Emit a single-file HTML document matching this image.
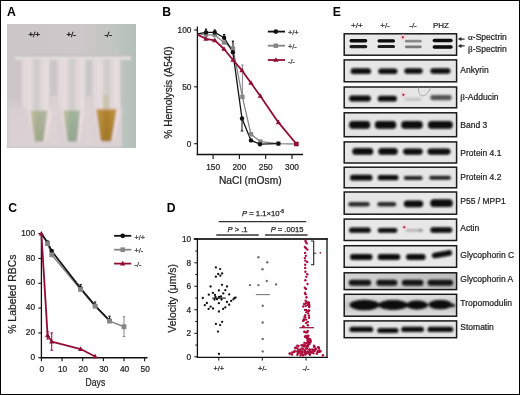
<!DOCTYPE html>
<html><head><meta charset="utf-8"><style>
html,body{margin:0;padding:0;background:#fff;}
svg{display:block;font-family:"Liberation Sans", sans-serif;will-change:transform;}
</style></head><body>
<svg width="520" height="395" viewBox="0 0 520 395">
<rect x="0" y="0" width="520" height="395" fill="#fff"/>
<text x="7" y="15.7" font-size="12.2" text-anchor="start" font-weight="bold" fill="#000"  >A</text>
<text x="162.3" y="15.7" font-size="12.2" text-anchor="start" font-weight="bold" fill="#000"  >B</text>
<text x="8.3" y="212.1" font-size="12.2" text-anchor="start" font-weight="bold" fill="#000"  >C</text>
<text x="166.7" y="212" font-size="12.2" text-anchor="start" font-weight="bold" fill="#000"  >D</text>
<text x="332.7" y="15.7" font-size="12.2" text-anchor="start" font-weight="bold" fill="#000"  >E</text>
<line x1="197.4" y1="26.5" x2="197.4" y2="155.2" stroke="#111" stroke-width="1.3"/>
<line x1="196.8" y1="154.5" x2="303" y2="154.5" stroke="#111" stroke-width="1.4"/>
<line x1="194.2" y1="30" x2="197.4" y2="30" stroke="#111" stroke-width="1.1"/>
<text x="191.4" y="33.0" font-size="8.3" text-anchor="end" font-weight="normal" fill="#222" stroke="#222" stroke-width="0.22" >100</text>
<line x1="194.2" y1="86.8" x2="197.4" y2="86.8" stroke="#111" stroke-width="1.1"/>
<text x="191.4" y="89.8" font-size="8.3" text-anchor="end" font-weight="normal" fill="#222" stroke="#222" stroke-width="0.22" >50</text>
<line x1="194.2" y1="143.7" x2="197.4" y2="143.7" stroke="#111" stroke-width="1.1"/>
<text x="191.4" y="146.7" font-size="8.3" text-anchor="end" font-weight="normal" fill="#222" stroke="#222" stroke-width="0.22" >0</text>
<line x1="213.1" y1="154.5" x2="213.1" y2="159" stroke="#111" stroke-width="1.1"/>
<text x="213.1" y="169.5" font-size="8.3" text-anchor="middle" font-weight="normal" fill="#222" stroke="#222" stroke-width="0.22" >150</text>
<line x1="239.4" y1="154.5" x2="239.4" y2="159" stroke="#111" stroke-width="1.1"/>
<text x="239.4" y="169.5" font-size="8.3" text-anchor="middle" font-weight="normal" fill="#222" stroke="#222" stroke-width="0.22" >200</text>
<line x1="265.7" y1="154.5" x2="265.7" y2="159" stroke="#111" stroke-width="1.1"/>
<text x="265.7" y="169.5" font-size="8.3" text-anchor="middle" font-weight="normal" fill="#222" stroke="#222" stroke-width="0.22" >250</text>
<line x1="292" y1="154.5" x2="292" y2="159" stroke="#111" stroke-width="1.1"/>
<text x="292" y="169.5" font-size="8.3" text-anchor="middle" font-weight="normal" fill="#222" stroke="#222" stroke-width="0.22" >300</text>
<text x="250.3" y="184" font-size="10.25" text-anchor="middle" font-weight="normal" fill="#222" stroke="#222" stroke-width="0.22" >NaCl (mOsm)</text>
<text x="0" y="0" font-size="10.2" text-anchor="middle" font-weight="normal" fill="#222" stroke="#222" stroke-width="0.22" transform="translate(172.2,92.6) rotate(-90)">% Hemolysis (A540)</text>
<polyline points="197.4,33.8 206,34.6 214.8,35 224,42.5 233,48.5 242.4,96.9 251,134.3 260.4,141.6 278.4,143.6 296.4,144" fill="none" stroke="#858585" stroke-width="1.3" stroke-linejoin="round"/>
<polyline points="197.4,33.8 206,32.4 214.8,32.4 224.1,37.7 232.9,52.3 242,118.5 251,140.4 260,144.2 278.4,143.6" fill="none" stroke="#111" stroke-width="1.3" stroke-linejoin="round"/>
<polyline points="197.4,34.6 206,38.8 214.8,40.4 224,49 233,60 242,70.4 251,83 260.3,96 278.4,122.4 296.4,144" fill="none" stroke="#900d34" stroke-width="1.8" stroke-linejoin="round"/>
<line x1="206" y1="29.2" x2="206" y2="32.4" stroke="#111" stroke-width="1.2"/>
<line x1="204.9" y1="29.2" x2="207.1" y2="29.2" stroke="#111" stroke-width="1.2"/>
<line x1="204.9" y1="32.4" x2="207.1" y2="32.4" stroke="#111" stroke-width="1.2"/>
<line x1="214.8" y1="30" x2="214.8" y2="32.4" stroke="#111" stroke-width="1.2"/>
<line x1="213.70000000000002" y1="30" x2="215.9" y2="30" stroke="#111" stroke-width="1.2"/>
<line x1="213.70000000000002" y1="32.4" x2="215.9" y2="32.4" stroke="#111" stroke-width="1.2"/>
<line x1="224.1" y1="34.6" x2="224.1" y2="37.7" stroke="#111" stroke-width="1.2"/>
<line x1="223.0" y1="34.6" x2="225.2" y2="34.6" stroke="#111" stroke-width="1.2"/>
<line x1="223.0" y1="37.7" x2="225.2" y2="37.7" stroke="#111" stroke-width="1.2"/>
<line x1="232.9" y1="41.2" x2="232.9" y2="52.3" stroke="#111" stroke-width="1.2"/>
<line x1="231.8" y1="41.2" x2="234.0" y2="41.2" stroke="#111" stroke-width="1.2"/>
<line x1="231.8" y1="52.3" x2="234.0" y2="52.3" stroke="#111" stroke-width="1.2"/>
<line x1="242" y1="118.5" x2="242" y2="131" stroke="#111" stroke-width="1"/>
<line x1="240.7" y1="118.5" x2="243.3" y2="118.5" stroke="#111" stroke-width="1"/>
<line x1="240.7" y1="131" x2="243.3" y2="131" stroke="#111" stroke-width="1"/>
<line x1="242.4" y1="96.9" x2="242.4" y2="65" stroke="#858585" stroke-width="1"/>
<line x1="241.1" y1="96.9" x2="243.70000000000002" y2="96.9" stroke="#858585" stroke-width="1"/>
<line x1="241.1" y1="65" x2="243.70000000000002" y2="65" stroke="#858585" stroke-width="1"/>
<line x1="233" y1="50.8" x2="233" y2="44" stroke="#858585" stroke-width="1"/>
<line x1="231.7" y1="50.8" x2="234.3" y2="50.8" stroke="#858585" stroke-width="1"/>
<line x1="231.7" y1="44" x2="234.3" y2="44" stroke="#858585" stroke-width="1"/>
<rect x="203.8" y="32.4" width="4.4" height="4.4" fill="#858585"/>
<rect x="212.60000000000002" y="32.8" width="4.4" height="4.4" fill="#858585"/>
<rect x="221.8" y="40.3" width="4.4" height="4.4" fill="#858585"/>
<rect x="230.8" y="46.3" width="4.4" height="4.4" fill="#858585"/>
<rect x="240.20000000000002" y="94.7" width="4.4" height="4.4" fill="#858585"/>
<rect x="248.8" y="132.10000000000002" width="4.4" height="4.4" fill="#858585"/>
<rect x="258.2" y="139.4" width="4.4" height="4.4" fill="#858585"/>
<rect x="276.2" y="141.4" width="4.4" height="4.4" fill="#858585"/>
<circle cx="206" cy="32.4" r="2.2" fill="#111"/>
<circle cx="214.8" cy="32.4" r="2.2" fill="#111"/>
<circle cx="224.1" cy="37.7" r="2.2" fill="#111"/>
<circle cx="232.9" cy="52.3" r="2.2" fill="#111"/>
<circle cx="242" cy="118.5" r="2.2" fill="#111"/>
<circle cx="251" cy="140.4" r="2.2" fill="#111"/>
<circle cx="260" cy="144.2" r="2.2" fill="#111"/>
<circle cx="278.4" cy="143.6" r="2.2" fill="#111"/>
<polygon points="206,35.992 203.4,40.672 208.6,40.672" fill="#900d34"/>
<polygon points="214.8,37.592 212.20000000000002,42.272 217.4,42.272" fill="#900d34"/>
<polygon points="224,46.192 221.4,50.872 226.6,50.872" fill="#900d34"/>
<polygon points="233,57.192 230.4,61.872 235.6,61.872" fill="#900d34"/>
<polygon points="242,67.592 239.4,72.272 244.6,72.272" fill="#900d34"/>
<polygon points="251,80.192 248.4,84.872 253.6,84.872" fill="#900d34"/>
<polygon points="260.3,93.192 257.7,97.872 262.90000000000003,97.872" fill="#900d34"/>
<polygon points="278.4,119.592 275.79999999999995,124.272 281.0,124.272" fill="#900d34"/>
<rect x="294.09999999999997" y="141.7" width="4.6" height="4.6" fill="#900d34"/>
<line x1="267.8" y1="31.6" x2="285" y2="31.6" stroke="#111" stroke-width="1.8"/>
<circle cx="275.8" cy="31.6" r="2.4" fill="#111"/>
<text x="288" y="35.300000000000004" font-size="7.3" text-anchor="start" font-weight="normal" fill="#333" stroke="#333" stroke-width="0.22" >+/+</text>
<line x1="267.8" y1="45.7" x2="285" y2="45.7" stroke="#858585" stroke-width="1.8"/>
<rect x="273.6" y="43.5" width="4.4" height="4.4" fill="#858585"/>
<text x="288" y="49.400000000000006" font-size="7.3" text-anchor="start" font-weight="normal" fill="#333" stroke="#333" stroke-width="0.22" >+/-</text>
<line x1="267.8" y1="60" x2="285" y2="60" stroke="#900d34" stroke-width="1.8"/>
<polygon points="275.8,57.192 273.2,61.872 278.40000000000003,61.872" fill="#900d34"/>
<text x="288" y="63.7" font-size="7.3" text-anchor="start" font-weight="normal" fill="#333" stroke="#333" stroke-width="0.22" >-/-</text>
<line x1="41.4" y1="232.5" x2="41.4" y2="358.3" stroke="#111" stroke-width="1.3"/>
<line x1="40.8" y1="357.7" x2="147.5" y2="357.7" stroke="#111" stroke-width="1.4"/>
<line x1="38.3" y1="233.7" x2="41.4" y2="233.7" stroke="#111" stroke-width="1.1"/>
<text x="35" y="235.79999999999998" font-size="8.3" text-anchor="end" font-weight="normal" fill="#222" stroke="#222" stroke-width="0.22" >100</text>
<line x1="38.3" y1="258.5" x2="41.4" y2="258.5" stroke="#111" stroke-width="1.1"/>
<text x="35" y="260.6" font-size="8.3" text-anchor="end" font-weight="normal" fill="#222" stroke="#222" stroke-width="0.22" >80</text>
<line x1="38.3" y1="283.3" x2="41.4" y2="283.3" stroke="#111" stroke-width="1.1"/>
<text x="35" y="285.40000000000003" font-size="8.3" text-anchor="end" font-weight="normal" fill="#222" stroke="#222" stroke-width="0.22" >60</text>
<line x1="38.3" y1="308.1" x2="41.4" y2="308.1" stroke="#111" stroke-width="1.1"/>
<text x="35" y="310.20000000000005" font-size="8.3" text-anchor="end" font-weight="normal" fill="#222" stroke="#222" stroke-width="0.22" >40</text>
<line x1="38.3" y1="332.9" x2="41.4" y2="332.9" stroke="#111" stroke-width="1.1"/>
<text x="35" y="335.0" font-size="8.3" text-anchor="end" font-weight="normal" fill="#222" stroke="#222" stroke-width="0.22" >20</text>
<line x1="38.3" y1="357.7" x2="41.4" y2="357.7" stroke="#111" stroke-width="1.1"/>
<text x="35" y="359.8" font-size="8.3" text-anchor="end" font-weight="normal" fill="#222" stroke="#222" stroke-width="0.22" >0</text>
<line x1="41.4" y1="357.7" x2="41.4" y2="361.2" stroke="#111" stroke-width="1.1"/>
<text x="41.9" y="371.5" font-size="8.3" text-anchor="middle" font-weight="normal" fill="#222" stroke="#222" stroke-width="0.22" >0</text>
<line x1="62.05" y1="357.7" x2="62.05" y2="361.2" stroke="#111" stroke-width="1.1"/>
<text x="62.55" y="371.5" font-size="8.3" text-anchor="middle" font-weight="normal" fill="#222" stroke="#222" stroke-width="0.22" >10</text>
<line x1="82.69999999999999" y1="357.7" x2="82.69999999999999" y2="361.2" stroke="#111" stroke-width="1.1"/>
<text x="83.19999999999999" y="371.5" font-size="8.3" text-anchor="middle" font-weight="normal" fill="#222" stroke="#222" stroke-width="0.22" >20</text>
<line x1="103.35" y1="357.7" x2="103.35" y2="361.2" stroke="#111" stroke-width="1.1"/>
<text x="103.85" y="371.5" font-size="8.3" text-anchor="middle" font-weight="normal" fill="#222" stroke="#222" stroke-width="0.22" >30</text>
<line x1="124.0" y1="357.7" x2="124.0" y2="361.2" stroke="#111" stroke-width="1.1"/>
<text x="124.5" y="371.5" font-size="8.3" text-anchor="middle" font-weight="normal" fill="#222" stroke="#222" stroke-width="0.22" >40</text>
<line x1="144.65" y1="357.7" x2="144.65" y2="361.2" stroke="#111" stroke-width="1.1"/>
<text x="145.15" y="371.5" font-size="8.3" text-anchor="middle" font-weight="normal" fill="#222" stroke="#222" stroke-width="0.22" >50</text>
<text x="95.4" y="385.5" font-size="10.7" text-anchor="middle" font-weight="normal" fill="#222" stroke="#222" stroke-width="0.22" textLength="19.6" lengthAdjust="spacingAndGlyphs">Days</text>
<text x="0" y="0" font-size="10.4" text-anchor="middle" font-weight="normal" fill="#222" stroke="#222" stroke-width="0.22" transform="translate(15.8,294.2) rotate(-90)">% Labeled RBCs</text>
<polyline points="41.4,233.7 47.595,243.62 51.724999999999994,254.77999999999997 80.63499999999999,289.5 95.09,306.24 109.54499999999999,321.12 124.0,326.7" fill="none" stroke="#858585" stroke-width="1.5" stroke-linejoin="round"/>
<polyline points="41.4,233.7 47.595,242.38 51.724999999999994,251.06 80.63499999999999,288.26 95.09,305.62 109.54499999999999,320.5" fill="none" stroke="#111" stroke-width="1.7" stroke-linejoin="round"/>
<polyline points="41.4,233.7 47.595,335.38 51.724999999999994,341.58 80.63499999999999,349.02 95.09,356.46" fill="none" stroke="#900d34" stroke-width="1.8" stroke-linejoin="round"/>
<line x1="124.0" y1="316.78" x2="124.0" y2="336.62" stroke="#858585" stroke-width="1"/>
<line x1="122.7" y1="316.78" x2="125.3" y2="316.78" stroke="#858585" stroke-width="1"/>
<line x1="122.7" y1="336.62" x2="125.3" y2="336.62" stroke="#858585" stroke-width="1"/>
<line x1="109.54499999999999" y1="316.15999999999997" x2="109.54499999999999" y2="321.12" stroke="#111" stroke-width="1"/>
<line x1="108.34499999999998" y1="316.15999999999997" x2="110.74499999999999" y2="316.15999999999997" stroke="#111" stroke-width="1"/>
<line x1="108.34499999999998" y1="321.12" x2="110.74499999999999" y2="321.12" stroke="#111" stroke-width="1"/>
<line x1="95.09" y1="301.9" x2="95.09" y2="306.24" stroke="#111" stroke-width="1"/>
<line x1="93.89" y1="301.9" x2="96.29" y2="301.9" stroke="#111" stroke-width="1"/>
<line x1="93.89" y1="306.24" x2="96.29" y2="306.24" stroke="#111" stroke-width="1"/>
<line x1="80.63499999999999" y1="284.53999999999996" x2="80.63499999999999" y2="288.26" stroke="#111" stroke-width="1"/>
<line x1="79.43499999999999" y1="284.53999999999996" x2="81.835" y2="284.53999999999996" stroke="#111" stroke-width="1"/>
<line x1="79.43499999999999" y1="288.26" x2="81.835" y2="288.26" stroke="#111" stroke-width="1"/>
<line x1="51.724999999999994" y1="332.9" x2="51.724999999999994" y2="350.26" stroke="#900d34" stroke-width="1"/>
<line x1="50.425" y1="332.9" x2="53.02499999999999" y2="332.9" stroke="#900d34" stroke-width="1"/>
<line x1="50.425" y1="350.26" x2="53.02499999999999" y2="350.26" stroke="#900d34" stroke-width="1"/>
<line x1="47.595" y1="331.65999999999997" x2="47.595" y2="339.09999999999997" stroke="#900d34" stroke-width="1"/>
<line x1="46.394999999999996" y1="331.65999999999997" x2="48.795" y2="331.65999999999997" stroke="#900d34" stroke-width="1"/>
<line x1="46.394999999999996" y1="339.09999999999997" x2="48.795" y2="339.09999999999997" stroke="#900d34" stroke-width="1"/>
<circle cx="47.595" cy="242.38" r="2.2" fill="#111"/>
<circle cx="51.724999999999994" cy="251.06" r="2.2" fill="#111"/>
<circle cx="80.63499999999999" cy="288.26" r="2.2" fill="#111"/>
<circle cx="95.09" cy="305.62" r="2.2" fill="#111"/>
<circle cx="109.54499999999999" cy="320.5" r="2.2" fill="#111"/>
<rect x="45.195" y="241.22" width="4.8" height="4.8" fill="#858585"/>
<rect x="49.324999999999996" y="252.37999999999997" width="4.8" height="4.8" fill="#858585"/>
<rect x="78.23499999999999" y="287.1" width="4.8" height="4.8" fill="#858585"/>
<rect x="92.69" y="303.84000000000003" width="4.8" height="4.8" fill="#858585"/>
<rect x="107.14499999999998" y="318.72" width="4.8" height="4.8" fill="#858585"/>
<rect x="121.6" y="324.3" width="4.8" height="4.8" fill="#858585"/>
<polygon points="41.4,230.892 38.8,235.572 44.0,235.572" fill="#900d34"/>
<polygon points="47.595,332.572 44.995,337.252 50.195,337.252" fill="#900d34"/>
<polygon points="51.724999999999994,338.772 49.12499999999999,343.452 54.324999999999996,343.452" fill="#900d34"/>
<polygon points="80.63499999999999,346.212 78.035,350.892 83.23499999999999,350.892" fill="#900d34"/>
<polygon points="95.09,353.652 92.49000000000001,358.332 97.69,358.332" fill="#900d34"/>
<line x1="114.1" y1="235.8" x2="131.3" y2="235.8" stroke="#111" stroke-width="1.8"/>
<circle cx="122.7" cy="235.8" r="2.4" fill="#111"/>
<text x="134.5" y="239.5" font-size="7.3" text-anchor="start" font-weight="normal" fill="#333" stroke="#333" stroke-width="0.22" >+/+</text>
<line x1="114.1" y1="249.7" x2="131.3" y2="249.7" stroke="#858585" stroke-width="1.8"/>
<rect x="120.4" y="247.39999999999998" width="4.6" height="4.6" fill="#858585"/>
<text x="134.5" y="253.39999999999998" font-size="7.3" text-anchor="start" font-weight="normal" fill="#333" stroke="#333" stroke-width="0.22" >+/-</text>
<line x1="114.1" y1="263.6" x2="131.3" y2="263.6" stroke="#900d34" stroke-width="1.8"/>
<polygon points="122.7,260.684 120.0,265.54400000000004 125.4,265.54400000000004" fill="#900d34"/>
<text x="134.5" y="267.3" font-size="7.3" text-anchor="start" font-weight="normal" fill="#333" stroke="#333" stroke-width="0.22" >-/-</text>
<line x1="193.8" y1="239" x2="327.6" y2="239" stroke="#333" stroke-width="1.8"/>
<line x1="197.4" y1="238" x2="197.4" y2="358" stroke="#111" stroke-width="1.3"/>
<line x1="327" y1="238" x2="327" y2="358" stroke="#111" stroke-width="1.3"/>
<line x1="196.8" y1="357.4" x2="327.6" y2="357.4" stroke="#111" stroke-width="1.4"/>
<line x1="194.3" y1="356.8" x2="197.3" y2="356.8" stroke="#111" stroke-width="1"/>
<text x="191.2" y="359.7" font-size="8.3" text-anchor="end" font-weight="normal" fill="#222" stroke="#222" stroke-width="0.22" >0</text>
<line x1="195.3" y1="345.05" x2="197.3" y2="345.05" stroke="#111" stroke-width="1"/>
<line x1="194.3" y1="333.3" x2="197.3" y2="333.3" stroke="#111" stroke-width="1"/>
<text x="191.2" y="336.2" font-size="8.3" text-anchor="end" font-weight="normal" fill="#222" stroke="#222" stroke-width="0.22" >2</text>
<line x1="195.3" y1="321.55" x2="197.3" y2="321.55" stroke="#111" stroke-width="1"/>
<line x1="194.3" y1="309.8" x2="197.3" y2="309.8" stroke="#111" stroke-width="1"/>
<text x="191.2" y="312.7" font-size="8.3" text-anchor="end" font-weight="normal" fill="#222" stroke="#222" stroke-width="0.22" >4</text>
<line x1="195.3" y1="298.05" x2="197.3" y2="298.05" stroke="#111" stroke-width="1"/>
<line x1="194.3" y1="286.3" x2="197.3" y2="286.3" stroke="#111" stroke-width="1"/>
<text x="191.2" y="289.2" font-size="8.3" text-anchor="end" font-weight="normal" fill="#222" stroke="#222" stroke-width="0.22" >6</text>
<line x1="195.3" y1="274.55" x2="197.3" y2="274.55" stroke="#111" stroke-width="1"/>
<line x1="194.3" y1="262.8" x2="197.3" y2="262.8" stroke="#111" stroke-width="1"/>
<text x="191.2" y="265.7" font-size="8.3" text-anchor="end" font-weight="normal" fill="#222" stroke="#222" stroke-width="0.22" >8</text>
<line x1="195.3" y1="251.05" x2="197.3" y2="251.05" stroke="#111" stroke-width="1"/>
<line x1="194.3" y1="239.3" x2="197.3" y2="239.3" stroke="#111" stroke-width="1"/>
<text x="191.2" y="242.20000000000002" font-size="8.3" text-anchor="end" font-weight="normal" fill="#222" stroke="#222" stroke-width="0.22" >10</text>
<line x1="218.8" y1="357.3" x2="218.8" y2="360.5" stroke="#111" stroke-width="1"/>
<text x="218.8" y="370.9" font-size="7.3" text-anchor="middle" font-weight="normal" fill="#222" stroke="#222" stroke-width="0.22" >+/+</text>
<line x1="262.3" y1="357.3" x2="262.3" y2="360.5" stroke="#111" stroke-width="1"/>
<text x="262.3" y="370.9" font-size="7.3" text-anchor="middle" font-weight="normal" fill="#222" stroke="#222" stroke-width="0.22" >+/-</text>
<line x1="306" y1="357.3" x2="306" y2="360.5" stroke="#111" stroke-width="1"/>
<text x="306" y="370.9" font-size="7.3" text-anchor="middle" font-weight="normal" fill="#222" stroke="#222" stroke-width="0.22" >-/-</text>
<text x="0" y="0" font-size="10.45" text-anchor="middle" font-weight="normal" fill="#222" stroke="#222" stroke-width="0.22" transform="translate(175.7,298.3) rotate(-90)">Velocity (μm/s)</text>
<line x1="218.75" y1="221.6" x2="306.25" y2="221.6" stroke="#333" stroke-width="1.3"/>
<line x1="216.25" y1="235" x2="258.75" y2="235" stroke="#333" stroke-width="1.3"/>
<line x1="265" y1="235" x2="307.5" y2="235" stroke="#333" stroke-width="1.3"/>
<text x="263" y="216" font-size="7.7" text-anchor="middle" fill="#222" stroke="#222" stroke-width="0.25"><tspan font-style="italic">P</tspan> = 1.1×10<tspan font-size="5" dy="-3">-6</tspan></text>
<text x="237.5" y="232" font-size="7.6" text-anchor="middle" fill="#222" stroke="#222" stroke-width="0.25"><tspan font-style="italic">P</tspan> &gt; .1</text>
<text x="287" y="232" font-size="7.6" text-anchor="middle" fill="#222" stroke="#222" stroke-width="0.25"><tspan font-style="italic">P</tspan> = .0015</text>
<circle cx="215.9" cy="267.4" r="1.15" fill="#111"/>
<circle cx="220.1" cy="269.1" r="1.15" fill="#111"/>
<circle cx="218.2" cy="274" r="1.15" fill="#111"/>
<circle cx="222.1" cy="273.5" r="1.15" fill="#111"/>
<circle cx="220.3" cy="275.7" r="1.15" fill="#111"/>
<circle cx="215.9" cy="276.7" r="1.15" fill="#111"/>
<circle cx="210.6" cy="286.5" r="1.15" fill="#111"/>
<circle cx="222" cy="284.8" r="1.15" fill="#111"/>
<circle cx="227" cy="286.5" r="1.15" fill="#111"/>
<circle cx="218.9" cy="290.4" r="1.15" fill="#111"/>
<circle cx="225.3" cy="290.2" r="1.15" fill="#111"/>
<circle cx="212.9" cy="292.9" r="1.15" fill="#111"/>
<circle cx="223.3" cy="293.4" r="1.15" fill="#111"/>
<circle cx="208.8" cy="294.7" r="1.15" fill="#111"/>
<circle cx="215" cy="294.9" r="1.15" fill="#111"/>
<circle cx="229.2" cy="294.4" r="1.15" fill="#111"/>
<circle cx="202.8" cy="298" r="1.15" fill="#111"/>
<circle cx="234.4" cy="298" r="1.15" fill="#111"/>
<circle cx="215.5" cy="297" r="1.15" fill="#111"/>
<circle cx="217" cy="299.2" r="1.15" fill="#111"/>
<circle cx="219" cy="297" r="1.15" fill="#111"/>
<circle cx="221" cy="296.5" r="1.15" fill="#111"/>
<circle cx="221.5" cy="299.5" r="1.15" fill="#111"/>
<circle cx="214.5" cy="299.5" r="1.15" fill="#111"/>
<circle cx="235.6" cy="297.6" r="1.15" fill="#111"/>
<circle cx="233.4" cy="299.3" r="1.15" fill="#111"/>
<circle cx="231.2" cy="300.9" r="1.15" fill="#111"/>
<circle cx="227" cy="302" r="1.15" fill="#111"/>
<circle cx="218.9" cy="303.2" r="1.15" fill="#111"/>
<circle cx="206.9" cy="303" r="1.15" fill="#111"/>
<circle cx="204.8" cy="305.2" r="1.15" fill="#111"/>
<circle cx="229.2" cy="304.7" r="1.15" fill="#111"/>
<circle cx="210.6" cy="306.7" r="1.15" fill="#111"/>
<circle cx="225.3" cy="307.4" r="1.15" fill="#111"/>
<circle cx="208.6" cy="308.9" r="1.15" fill="#111"/>
<circle cx="213" cy="308.5" r="1.15" fill="#111"/>
<circle cx="223.1" cy="308.9" r="1.15" fill="#111"/>
<circle cx="218.9" cy="311.5" r="1.15" fill="#111"/>
<circle cx="222.1" cy="321.9" r="1.15" fill="#111"/>
<circle cx="215.9" cy="323.9" r="1.15" fill="#111"/>
<circle cx="220.1" cy="325.1" r="1.15" fill="#111"/>
<circle cx="218" cy="331.6" r="1.15" fill="#111"/>
<circle cx="219" cy="353.9" r="1.15" fill="#111"/>
<line x1="212.2" y1="298.1" x2="225.8" y2="298.1" stroke="#111" stroke-width="1.1"/>
<circle cx="258.4" cy="257.2" r="1.2" fill="#707070"/>
<circle cx="267.2" cy="262.3" r="1.2" fill="#707070"/>
<circle cx="262.5" cy="269.2" r="1.2" fill="#707070"/>
<circle cx="266.8" cy="281" r="1.2" fill="#707070"/>
<circle cx="249.9" cy="285.1" r="1.2" fill="#707070"/>
<circle cx="258.4" cy="285.1" r="1.2" fill="#707070"/>
<circle cx="276.1" cy="284.4" r="1.2" fill="#707070"/>
<circle cx="262.7" cy="305.7" r="1.2" fill="#707070"/>
<circle cx="262.7" cy="322.5" r="1.2" fill="#707070"/>
<circle cx="262.7" cy="338.9" r="1.2" fill="#707070"/>
<circle cx="262.7" cy="351.4" r="1.2" fill="#707070"/>
<line x1="255.8" y1="294.6" x2="269.7" y2="294.6" stroke="#777" stroke-width="1.1"/>
<circle cx="305.52" cy="240.8" r="1.2" fill="#ab0f3e"/>
<circle cx="305.8" cy="242.1" r="1.2" fill="#ab0f3e"/>
<circle cx="306.73" cy="243.4" r="1.2" fill="#ab0f3e"/>
<circle cx="304.88" cy="247.01" r="1.2" fill="#ab0f3e"/>
<circle cx="306.1" cy="248.31" r="1.2" fill="#ab0f3e"/>
<circle cx="307.44" cy="249.61" r="1.2" fill="#ab0f3e"/>
<circle cx="305.12" cy="252.88" r="1.2" fill="#ab0f3e"/>
<circle cx="305.87" cy="255.83" r="1.2" fill="#ab0f3e"/>
<circle cx="304.84" cy="258.11" r="1.2" fill="#ab0f3e"/>
<circle cx="305.31" cy="260.6" r="1.2" fill="#ab0f3e"/>
<circle cx="307.23" cy="261.9" r="1.2" fill="#ab0f3e"/>
<circle cx="305.19" cy="264.7" r="1.2" fill="#ab0f3e"/>
<circle cx="305.17" cy="267.91" r="1.2" fill="#ab0f3e"/>
<circle cx="305.39" cy="271.76" r="1.2" fill="#ab0f3e"/>
<circle cx="307.24" cy="274.25" r="1.2" fill="#ab0f3e"/>
<circle cx="306.31" cy="276.87" r="1.2" fill="#ab0f3e"/>
<circle cx="305.31" cy="280.19" r="1.2" fill="#ab0f3e"/>
<circle cx="307.51" cy="284.04" r="1.2" fill="#ab0f3e"/>
<circle cx="304.86" cy="287.74" r="1.2" fill="#ab0f3e"/>
<circle cx="305.96" cy="289.04" r="1.2" fill="#ab0f3e"/>
<circle cx="304.98" cy="292.83" r="1.2" fill="#ab0f3e"/>
<circle cx="305.64" cy="294.13" r="1.2" fill="#ab0f3e"/>
<circle cx="306.47" cy="297.31" r="1.2" fill="#ab0f3e"/>
<circle cx="305.67" cy="300.69" r="1.2" fill="#ab0f3e"/>
<circle cx="306.08" cy="309.89" r="1.2" fill="#ab0f3e"/>
<circle cx="306.08" cy="319.62" r="1.2" fill="#ab0f3e"/>
<circle cx="303.36" cy="326.38" r="1.2" fill="#ab0f3e"/>
<circle cx="303.15" cy="320.74" r="1.2" fill="#ab0f3e"/>
<circle cx="308.41" cy="302.45" r="1.2" fill="#ab0f3e"/>
<circle cx="308.04" cy="311.15" r="1.2" fill="#ab0f3e"/>
<circle cx="306.7" cy="302.23" r="1.2" fill="#ab0f3e"/>
<circle cx="303.3" cy="306.52" r="1.2" fill="#ab0f3e"/>
<circle cx="309.11" cy="306.91" r="1.2" fill="#ab0f3e"/>
<circle cx="307.84" cy="325.24" r="1.2" fill="#ab0f3e"/>
<circle cx="309.03" cy="310.61" r="1.2" fill="#ab0f3e"/>
<circle cx="305.27" cy="315.12" r="1.2" fill="#ab0f3e"/>
<circle cx="307.96" cy="304.7" r="1.2" fill="#ab0f3e"/>
<circle cx="307.79" cy="321.93" r="1.2" fill="#ab0f3e"/>
<circle cx="308.5" cy="302.92" r="1.2" fill="#ab0f3e"/>
<circle cx="309.05" cy="304.28" r="1.2" fill="#ab0f3e"/>
<circle cx="305.18" cy="317.27" r="1.2" fill="#ab0f3e"/>
<circle cx="308.88" cy="310.5" r="1.2" fill="#ab0f3e"/>
<circle cx="308.91" cy="315.63" r="1.2" fill="#ab0f3e"/>
<circle cx="305.0" cy="309.92" r="1.2" fill="#ab0f3e"/>
<circle cx="304.14" cy="303.95" r="1.2" fill="#ab0f3e"/>
<circle cx="303.95" cy="319.23" r="1.2" fill="#ab0f3e"/>
<circle cx="309.38" cy="306.04" r="1.2" fill="#ab0f3e"/>
<circle cx="303.31" cy="326.67" r="1.2" fill="#ab0f3e"/>
<circle cx="306.41" cy="312.15" r="1.2" fill="#ab0f3e"/>
<circle cx="304.52" cy="316.85" r="1.2" fill="#ab0f3e"/>
<circle cx="308.29" cy="313.39" r="1.2" fill="#ab0f3e"/>
<circle cx="305.7" cy="303.39" r="1.2" fill="#ab0f3e"/>
<circle cx="308.86" cy="302.82" r="1.2" fill="#ab0f3e"/>
<circle cx="306.16" cy="322.96" r="1.2" fill="#ab0f3e"/>
<circle cx="303.84" cy="320.29" r="1.2" fill="#ab0f3e"/>
<circle cx="309.08" cy="317.76" r="1.2" fill="#ab0f3e"/>
<circle cx="308.04" cy="304.67" r="1.2" fill="#ab0f3e"/>
<circle cx="305.78" cy="305.73" r="1.2" fill="#ab0f3e"/>
<circle cx="307.72" cy="331.06" r="1.2" fill="#ab0f3e"/>
<circle cx="305.77" cy="336.0" r="1.2" fill="#ab0f3e"/>
<circle cx="307.76" cy="335.83" r="1.2" fill="#ab0f3e"/>
<circle cx="305.77" cy="332.42" r="1.2" fill="#ab0f3e"/>
<circle cx="307.15" cy="332.35" r="1.2" fill="#ab0f3e"/>
<circle cx="304.96" cy="331.83" r="1.2" fill="#ab0f3e"/>
<circle cx="304.23" cy="331.64" r="1.2" fill="#ab0f3e"/>
<circle cx="308.44" cy="335.72" r="1.2" fill="#ab0f3e"/>
<circle cx="307.67" cy="340.49" r="1.2" fill="#ab0f3e"/>
<circle cx="305.01" cy="336.8" r="1.2" fill="#ab0f3e"/>
<circle cx="304.41" cy="343.04" r="1.2" fill="#ab0f3e"/>
<circle cx="309.88" cy="339.25" r="1.2" fill="#ab0f3e"/>
<circle cx="309.13" cy="342.97" r="1.2" fill="#ab0f3e"/>
<circle cx="308.29" cy="341.98" r="1.2" fill="#ab0f3e"/>
<circle cx="308.89" cy="339.27" r="1.2" fill="#ab0f3e"/>
<circle cx="308.38" cy="338.53" r="1.2" fill="#ab0f3e"/>
<circle cx="306.37" cy="342.93" r="1.2" fill="#ab0f3e"/>
<circle cx="308.26" cy="338.64" r="1.2" fill="#ab0f3e"/>
<circle cx="310.6" cy="341.85" r="1.2" fill="#ab0f3e"/>
<circle cx="307.24" cy="336.1" r="1.2" fill="#ab0f3e"/>
<circle cx="306.93" cy="338.26" r="1.2" fill="#ab0f3e"/>
<circle cx="308.08" cy="340.17" r="1.2" fill="#ab0f3e"/>
<circle cx="309.41" cy="341.83" r="1.2" fill="#ab0f3e"/>
<circle cx="309.24" cy="339.13" r="1.2" fill="#ab0f3e"/>
<circle cx="307.83" cy="342.64" r="1.2" fill="#ab0f3e"/>
<circle cx="309.52" cy="339.15" r="1.2" fill="#ab0f3e"/>
<circle cx="309.65" cy="343.83" r="1.2" fill="#ab0f3e"/>
<circle cx="308.23" cy="344.79" r="1.2" fill="#ab0f3e"/>
<circle cx="310.7" cy="340.66" r="1.2" fill="#ab0f3e"/>
<circle cx="306.77" cy="337.5" r="1.2" fill="#ab0f3e"/>
<circle cx="305.77" cy="353.87" r="1.2" fill="#ab0f3e"/>
<circle cx="308.3" cy="352.33" r="1.2" fill="#ab0f3e"/>
<circle cx="306.81" cy="346.82" r="1.2" fill="#ab0f3e"/>
<circle cx="310.04" cy="352.05" r="1.2" fill="#ab0f3e"/>
<circle cx="313.51" cy="353.21" r="1.2" fill="#ab0f3e"/>
<circle cx="304.56" cy="345.29" r="1.2" fill="#ab0f3e"/>
<circle cx="312.03" cy="351.89" r="1.2" fill="#ab0f3e"/>
<circle cx="305.09" cy="351.69" r="1.2" fill="#ab0f3e"/>
<circle cx="296.13" cy="347.4" r="1.2" fill="#ab0f3e"/>
<circle cx="297.38" cy="348.36" r="1.2" fill="#ab0f3e"/>
<circle cx="303.07" cy="345.38" r="1.2" fill="#ab0f3e"/>
<circle cx="297.62" cy="351.49" r="1.2" fill="#ab0f3e"/>
<circle cx="302.62" cy="354.57" r="1.2" fill="#ab0f3e"/>
<circle cx="295.37" cy="347.95" r="1.2" fill="#ab0f3e"/>
<circle cx="289.85" cy="353.81" r="1.2" fill="#ab0f3e"/>
<circle cx="307.45" cy="351.5" r="1.2" fill="#ab0f3e"/>
<circle cx="319.02" cy="348.6" r="1.2" fill="#ab0f3e"/>
<circle cx="316.84" cy="353.68" r="1.2" fill="#ab0f3e"/>
<circle cx="294.42" cy="351.81" r="1.2" fill="#ab0f3e"/>
<circle cx="320.52" cy="351.32" r="1.2" fill="#ab0f3e"/>
<circle cx="300.55" cy="355.26" r="1.2" fill="#ab0f3e"/>
<circle cx="292.04" cy="354.47" r="1.2" fill="#ab0f3e"/>
<circle cx="294.73" cy="351.0" r="1.2" fill="#ab0f3e"/>
<circle cx="304.76" cy="351.67" r="1.2" fill="#ab0f3e"/>
<circle cx="299.83" cy="349.58" r="1.2" fill="#ab0f3e"/>
<circle cx="322.9" cy="355.31" r="1.2" fill="#ab0f3e"/>
<circle cx="297.38" cy="354.69" r="1.2" fill="#ab0f3e"/>
<circle cx="302.89" cy="355.4" r="1.2" fill="#ab0f3e"/>
<circle cx="305.92" cy="348.38" r="1.2" fill="#ab0f3e"/>
<circle cx="295.52" cy="348.04" r="1.2" fill="#ab0f3e"/>
<circle cx="299.36" cy="351.59" r="1.2" fill="#ab0f3e"/>
<circle cx="301.13" cy="353.29" r="1.2" fill="#ab0f3e"/>
<circle cx="319.46" cy="350.65" r="1.2" fill="#ab0f3e"/>
<circle cx="298.06" cy="353.29" r="1.2" fill="#ab0f3e"/>
<circle cx="303.93" cy="346.64" r="1.2" fill="#ab0f3e"/>
<circle cx="310.62" cy="351.45" r="1.2" fill="#ab0f3e"/>
<circle cx="302.18" cy="351.4" r="1.2" fill="#ab0f3e"/>
<circle cx="307.14" cy="353.06" r="1.2" fill="#ab0f3e"/>
<circle cx="306.85" cy="348.56" r="1.2" fill="#ab0f3e"/>
<circle cx="313.36" cy="349.92" r="1.2" fill="#ab0f3e"/>
<circle cx="298.16" cy="351.26" r="1.2" fill="#ab0f3e"/>
<circle cx="309.88" cy="349.83" r="1.2" fill="#ab0f3e"/>
<circle cx="314.66" cy="350.78" r="1.2" fill="#ab0f3e"/>
<circle cx="312.15" cy="349.53" r="1.2" fill="#ab0f3e"/>
<circle cx="319.27" cy="351.7" r="1.2" fill="#ab0f3e"/>
<circle cx="316.21" cy="349.09" r="1.2" fill="#ab0f3e"/>
<circle cx="314.76" cy="347.08" r="1.2" fill="#ab0f3e"/>
<circle cx="307.95" cy="345.7" r="1.2" fill="#ab0f3e"/>
<circle cx="314.32" cy="349.59" r="1.2" fill="#ab0f3e"/>
<circle cx="305.23" cy="354.65" r="1.2" fill="#ab0f3e"/>
<circle cx="300.73" cy="350.82" r="1.2" fill="#ab0f3e"/>
<circle cx="314.11" cy="346.63" r="1.2" fill="#ab0f3e"/>
<circle cx="313.95" cy="345.73" r="1.2" fill="#ab0f3e"/>
<circle cx="289.73" cy="353.39" r="1.2" fill="#ab0f3e"/>
<circle cx="310.98" cy="352.66" r="1.2" fill="#ab0f3e"/>
<circle cx="317.33" cy="352.43" r="1.2" fill="#ab0f3e"/>
<circle cx="318.14" cy="347.32" r="1.2" fill="#ab0f3e"/>
<circle cx="299.1" cy="352.55" r="1.2" fill="#ab0f3e"/>
<circle cx="309.97" cy="354.73" r="1.2" fill="#ab0f3e"/>
<circle cx="309.6" cy="349.39" r="1.2" fill="#ab0f3e"/>
<circle cx="303.03" cy="345.46" r="1.2" fill="#ab0f3e"/>
<circle cx="307.88" cy="345.76" r="1.2" fill="#ab0f3e"/>
<circle cx="302.34" cy="352.87" r="1.2" fill="#ab0f3e"/>
<circle cx="308.97" cy="349.58" r="1.2" fill="#ab0f3e"/>
<circle cx="304.74" cy="350.19" r="1.2" fill="#ab0f3e"/>
<circle cx="297.37" cy="345.59" r="1.2" fill="#ab0f3e"/>
<circle cx="319.22" cy="351.69" r="1.2" fill="#ab0f3e"/>
<circle cx="298.61" cy="350.88" r="1.2" fill="#ab0f3e"/>
<circle cx="313.81" cy="350.85" r="1.2" fill="#ab0f3e"/>
<circle cx="297.84" cy="350.48" r="1.2" fill="#ab0f3e"/>
<circle cx="302.79" cy="348.93" r="1.2" fill="#ab0f3e"/>
<circle cx="292.2" cy="352.56" r="1.2" fill="#ab0f3e"/>
<circle cx="293.74" cy="352.08" r="1.2" fill="#ab0f3e"/>
<circle cx="317.96" cy="351.3" r="1.2" fill="#ab0f3e"/>
<circle cx="314.97" cy="350.09" r="1.2" fill="#ab0f3e"/>
<circle cx="301.54" cy="345.31" r="1.2" fill="#ab0f3e"/>
<circle cx="307.81" cy="346.6" r="1.2" fill="#ab0f3e"/>
<circle cx="318.72" cy="347.36" r="1.2" fill="#ab0f3e"/>
<circle cx="302.4" cy="352.05" r="1.2" fill="#ab0f3e"/>
<circle cx="297.49" cy="351.62" r="1.2" fill="#ab0f3e"/>
<circle cx="301.71" cy="348.53" r="1.2" fill="#ab0f3e"/>
<circle cx="315.61" cy="349.09" r="1.2" fill="#ab0f3e"/>
<circle cx="305.33" cy="351.87" r="1.2" fill="#ab0f3e"/>
<circle cx="309.25" cy="354.03" r="1.2" fill="#ab0f3e"/>
<circle cx="304.96" cy="351.08" r="1.2" fill="#ab0f3e"/>
<circle cx="298.48" cy="346.03" r="1.2" fill="#ab0f3e"/>
<circle cx="305.81" cy="345.42" r="1.2" fill="#ab0f3e"/>
<circle cx="304.99" cy="353.06" r="1.2" fill="#ab0f3e"/>
<line x1="299.4" y1="327.7" x2="313.9" y2="327.7" stroke="#900d34" stroke-width="1.2"/>
<path d="M310.9,241 H313.7 V264.8 H310.9 M313.7,253.2 H316.2" fill="none" stroke="#222" stroke-width="1.1"/>
<circle cx="320.3" cy="252.9" r="0.8" fill="#900d34"/>
<defs><filter id="bl" x="-20%" y="-80%" width="140%" height="260%"><feGaussianBlur stdDeviation="0.85"/></filter><filter id="bl2" x="-10%" y="-10%" width="120%" height="120%"><feGaussianBlur stdDeviation="1.2"/></filter><filter id="bl3" x="-20%" y="-80%" width="140%" height="260%"><feGaussianBlur stdDeviation="0.55"/></filter></defs>
<defs><linearGradient id="gA" x1="0" y1="0" x2="1" y2="0"><stop offset="0" stop-color="#d4d4d4"/><stop offset="1" stop-color="#bcbcbc"/></linearGradient><linearGradient id="gT" x1="0" y1="0" x2="0" y2="1"><stop offset="0" stop-color="#e4e4e4"/><stop offset="0.5" stop-color="#c4c4c4"/><stop offset="1" stop-color="#e0e0e0"/></linearGradient></defs>
<rect x="344.2" y="33.800000000000004" width="112.4" height="21.4" fill="#e8e8e8" stroke="#1a1a1a" stroke-width="1.5"/>
<g filter="url(#bl3)">
<rect x="349.5" y="39.099999999999994" width="17.800000000000033" height="3.4000000000000004" rx="1.7000000000000002" fill="#080808"/>
<rect x="377.5" y="39.3" width="17.50000000000002" height="3.2" rx="1.6" fill="#080808"/>
<rect x="404.90000000000003" y="39.800000000000004" width="16.799999999999976" height="2.8" rx="1.4" fill="#8a8a8a"/>
<rect x="432.6" y="38.7" width="20.099999999999987" height="3.5999999999999996" rx="1.7999999999999998" fill="#080808"/>
<rect x="349.5" y="45.0" width="17.800000000000033" height="3.2" rx="1.6" fill="#1a1a1a"/>
<rect x="377.5" y="44.95" width="17.50000000000002" height="3.0999999999999996" rx="1.5499999999999998" fill="#1a1a1a"/>
<rect x="404.90000000000003" y="45.4" width="16.799999999999976" height="2.8" rx="1.4" fill="#7a7a7a"/>
<rect x="432.6" y="45.15" width="20.099999999999987" height="3.5" rx="1.75" fill="#080808"/>
</g>
<rect x="344.2" y="59.900000000000006" width="112.4" height="21.9" fill="#e6e6e6" stroke="#1a1a1a" stroke-width="1.5"/>
<g filter="url(#bl)">
<rect x="350.7" y="68.3" width="20.20000000000001" height="5.8" rx="2.9" fill="#080808"/>
<rect x="378.3" y="68.4" width="19.099999999999987" height="5.6" rx="2.8" fill="#080808"/>
<rect x="404.3" y="68.2" width="18.4" height="5.6" rx="2.8" fill="#080808"/>
<rect x="430.3" y="68.2" width="20.20000000000001" height="5.6" rx="2.8" fill="#080808"/>
</g>
<rect x="344.2" y="87.0" width="112.4" height="20.800000000000004" fill="#e6e6e6" stroke="#1a1a1a" stroke-width="1.5"/>
<g filter="url(#bl)">
<rect x="349.1" y="95.6" width="21.799999999999976" height="5.8" rx="2.9" fill="#080808"/>
<rect x="377.7" y="95.8" width="19.20000000000001" height="5.8" rx="2.9" fill="#080808"/>
<rect x="404.3" y="97.80000000000001" width="17.20000000000001" height="3.2" rx="1.6" fill="#c4c4c4"/>
<rect x="430.3" y="94.94999999999999" width="21.4" height="5.3" rx="2.65" fill="#555"/>
</g>
<rect x="344.2" y="112.8" width="112.4" height="23.900000000000013" fill="#e4e4e4" stroke="#1a1a1a" stroke-width="1.5"/>
<g filter="url(#bl)">
<rect x="349.1" y="120.89999999999999" width="21.099999999999987" height="7.8" rx="3.5" fill="#080808"/>
<rect x="374.90000000000003" y="120.89999999999999" width="21.299999999999976" height="7.8" rx="3.5" fill="#080808"/>
<rect x="401.3" y="120.89999999999999" width="21.4" height="7.8" rx="3.5" fill="#080808"/>
<rect x="428.0" y="120.89999999999999" width="24.70000000000001" height="7.8" rx="3.5" fill="#080808"/>
</g>
<rect x="344.2" y="141.89999999999998" width="112.4" height="21.1" fill="#e6e6e6" stroke="#1a1a1a" stroke-width="1.5"/>
<g filter="url(#bl)">
<rect x="352.3" y="148.0" width="20.9" height="6.8" rx="3.4" fill="#080808"/>
<rect x="378.3" y="148.0" width="19.4" height="6.8" rx="3.4" fill="#080808"/>
<rect x="403.1" y="148.45" width="19.599999999999987" height="6.3" rx="3.15" fill="#080808"/>
<rect x="427.5" y="148.45" width="23.00000000000002" height="6.3" rx="3.15" fill="#080808"/>
</g>
<rect x="344.2" y="167.2" width="112.4" height="20.6" fill="#e6e6e6" stroke="#1a1a1a" stroke-width="1.5"/>
<g filter="url(#bl)">
<rect x="350.0" y="174.79999999999998" width="22.50000000000002" height="5.8" rx="2.9" fill="#080808"/>
<rect x="377.7" y="175.04999999999998" width="20.800000000000033" height="5.3" rx="2.65" fill="#080808"/>
<rect x="403.8" y="176.0" width="18.9" height="4.0" rx="2.0" fill="#222"/>
<rect x="429.2" y="175.8" width="21.70000000000001" height="4.0" rx="2.0" fill="#222"/>
</g>
<rect x="344.2" y="192.0" width="112.4" height="22.199999999999996" fill="#e6e6e6" stroke="#1a1a1a" stroke-width="1.5"/>
<g filter="url(#bl)">
<rect x="348.3" y="201.89999999999998" width="21.4" height="4.6" rx="2.3" fill="#2a2a2a"/>
<rect x="377.3" y="201.89999999999998" width="18.9" height="4.6" rx="2.3" fill="#2a2a2a"/>
<rect x="403.8" y="200.4" width="19.4" height="6.8" rx="3.4" fill="#080808"/>
<rect x="430.3" y="199.29999999999998" width="22.4" height="7.8" rx="3.5" fill="#080808"/>
</g>
<rect x="344.2" y="219.1" width="112.4" height="21.399999999999984" fill="#e8e8e8" stroke="#1a1a1a" stroke-width="1.5"/>
<g filter="url(#bl)">
<rect x="349.1" y="227.54999999999998" width="21.599999999999987" height="5.3" rx="2.65" fill="#080808"/>
<rect x="377.7" y="228.0" width="19.70000000000001" height="4.8" rx="2.4" fill="#080808"/>
<rect x="405.7" y="229.20000000000002" width="17.50000000000002" height="2.4000000000000004" rx="1.2000000000000002" fill="#a8a8a8"/>
<rect x="418.8" y="228.9" width="3.4" height="2.8" rx="1.4" fill="#888"/>
<rect x="430.3" y="227.35" width="22.00000000000002" height="5.3" rx="2.65" fill="#080808"/>
</g>
<rect x="344.2" y="245.7" width="112.4" height="21.6" fill="#e8e8e8" stroke="#1a1a1a" stroke-width="1.5"/>
<g filter="url(#bl)">
<rect x="350.0" y="254.1" width="22.50000000000002" height="5.8" rx="2.9" fill="#080808"/>
<rect x="377.7" y="254.1" width="22.50000000000002" height="5.8" rx="2.9" fill="#080808"/>
<rect x="406.1" y="254.1" width="19.499999999999964" height="5.8" rx="2.9" fill="#080808"/>
<rect x="431.8" y="251.39999999999998" width="20.4" height="5.6" rx="2.8" fill="#080808" transform="rotate(-10 442.0 254.2)"/>
</g>
<rect x="344.2" y="272.8" width="112.4" height="16.79999999999999" fill="url(#gA)" stroke="#1a1a1a" stroke-width="1.5"/>
<g filter="url(#bl)">
<rect x="348.7" y="279.8" width="22.50000000000002" height="6.0" rx="3.0" fill="#151515"/>
<rect x="376.3" y="279.8" width="21.099999999999987" height="6.0" rx="3.0" fill="#151515"/>
<rect x="401.8" y="279.8" width="21.70000000000001" height="6.0" rx="3.0" fill="#151515"/>
<rect x="427.5" y="279.8" width="25.599999999999987" height="6.0" rx="3.0" fill="#151515"/>
</g>
<rect x="344.2" y="294.3" width="112.4" height="21.899999999999956" fill="url(#gT)" stroke="#1a1a1a" stroke-width="1.5"/>
<g filter="url(#bl)">
<ellipse cx="364.5" cy="305" rx="14.899999999999977" ry="5.15" fill="#080808"/>
<rect x="353.6" y="301.05" width="21.799999999999955" height="7.9" rx="3" fill="#080808"/>
<ellipse cx="393.15" cy="305" rx="14.650000000000006" ry="4.9" fill="#080808"/>
<rect x="382.5" y="301.3" width="21.30000000000001" height="7.4" rx="3" fill="#080808"/>
<ellipse cx="417.0" cy="305" rx="11.199999999999989" ry="4.4" fill="#080808"/>
<rect x="409.8" y="301.8" width="14.399999999999977" height="6.4" rx="3" fill="#080808"/>
<ellipse cx="440.25" cy="304.6" rx="11.75" ry="4.7" fill="#080808"/>
<rect x="432.5" y="301.1" width="15.5" height="7.0" rx="3" fill="#080808"/>
<ellipse cx="451.0" cy="305.5" rx="4.0" ry="1.65" fill="#080808"/>
<rect x="451" y="305.05" width="0" height="0.8999999999999999" rx="3" fill="#080808"/>
</g>
<rect x="344.2" y="320.9" width="112.4" height="16.79999999999999" fill="#e4e4e4" stroke="#1a1a1a" stroke-width="1.5"/>
<g filter="url(#bl)">
<rect x="349.5" y="326.7" width="23.70000000000001" height="5.3999999999999995" rx="2.6999999999999997" fill="#080808"/>
<rect x="377.3" y="328.0" width="21.20000000000001" height="5.0" rx="2.5" fill="#080808"/>
<rect x="401.3" y="326.79999999999995" width="22.599999999999987" height="5.2" rx="2.6" fill="#080808"/>
<rect x="427.5" y="326.79999999999995" width="25.70000000000001" height="5.2" rx="2.6" fill="#080808"/>
</g>
<circle cx="402.8" cy="37.2" r="2.6" fill="#f3cdd5"/>
<circle cx="402.8" cy="37.2" r="1.0" fill="#8e1a34"/>
<circle cx="403.4" cy="94.7" r="2.6" fill="#f3cdd5"/>
<circle cx="403.4" cy="94.7" r="1.0" fill="#8e1a34"/>
<circle cx="404.3" cy="227.3" r="2.6" fill="#f3cdd5"/>
<circle cx="404.3" cy="227.3" r="1.0" fill="#8e1a34"/>
<path d="M418.6,87.3 C418.2,92.5 420,96.2 423.2,95.9 C426.8,95.4 429.6,90.5 430.6,87.2" fill="none" stroke="#8f8f8f" stroke-width="0.7"/>
<text x="356.8" y="28.2" font-size="8" text-anchor="middle" font-weight="normal" fill="#222" stroke="#222" stroke-width="0.22" >+/+</text>
<text x="385" y="28.2" font-size="8" text-anchor="middle" font-weight="normal" fill="#222" stroke="#222" stroke-width="0.22" >+/-</text>
<text x="413" y="28.2" font-size="8" text-anchor="middle" font-weight="normal" fill="#222" stroke="#222" stroke-width="0.22" >-/-</text>
<text x="441" y="28.2" font-size="8" text-anchor="middle" font-weight="normal" fill="#222" stroke="#222" stroke-width="0.22" >PHZ</text>
<text x="460.3" y="73.4" font-size="8.5" text-anchor="start" font-weight="normal" fill="#222" stroke="#222" stroke-width="0.22" >Ankyrin</text>
<text x="460.3" y="99.8" font-size="8.5" text-anchor="start" font-weight="normal" fill="#222" stroke="#222" stroke-width="0.22" ><tspan font-family="Liberation Serif" font-size="9.2">β</tspan>-Adducin</text>
<text x="460.3" y="127.9" font-size="8.5" text-anchor="start" font-weight="normal" fill="#222" stroke="#222" stroke-width="0.22" >Band 3</text>
<text x="460.3" y="155.5" font-size="8.5" text-anchor="start" font-weight="normal" fill="#222" stroke="#222" stroke-width="0.22" >Protein 4.1</text>
<text x="460.3" y="179.9" font-size="8.5" text-anchor="start" font-weight="normal" fill="#222" stroke="#222" stroke-width="0.22" >Protein 4.2</text>
<text x="460.3" y="203.5" font-size="8.5" text-anchor="start" font-weight="normal" fill="#222" stroke="#222" stroke-width="0.22" >P55 / MPP1</text>
<text x="460.3" y="231.1" font-size="8.5" text-anchor="start" font-weight="normal" fill="#222" stroke="#222" stroke-width="0.22" >Actin</text>
<text x="460.3" y="257.7" font-size="8.5" text-anchor="start" font-weight="normal" fill="#222" stroke="#222" stroke-width="0.22" >Glycophorin C</text>
<text x="460.3" y="281.9" font-size="8.5" text-anchor="start" font-weight="normal" fill="#222" stroke="#222" stroke-width="0.22" >Glycophorin A</text>
<text x="460.3" y="305.7" font-size="8.5" text-anchor="start" font-weight="normal" fill="#222" stroke="#222" stroke-width="0.22" >Tropomodulin</text>
<text x="460.3" y="329.8" font-size="8.5" text-anchor="start" font-weight="normal" fill="#222" stroke="#222" stroke-width="0.22" >Stomatin</text>
<text x="468" y="39.7" font-size="8.5" text-anchor="start" font-weight="normal" fill="#222" stroke="#222" stroke-width="0.22" ><tspan font-family="Liberation Serif" font-size="9.2">α</tspan>-Spectrin</text>
<text x="468" y="51.6" font-size="8.5" text-anchor="start" font-weight="normal" fill="#222" stroke="#222" stroke-width="0.22" ><tspan font-family="Liberation Serif" font-size="9.2">β</tspan>-Spectrin</text>
<path d="M460.5,39.1 H464.6" stroke="#222" stroke-width="1.2" fill="none"/>
<path d="M457.8,39.1 L461.4,37.1 L461.4,41.1 Z" fill="#222"/>
<path d="M460.5,45.9 H464.6" stroke="#222" stroke-width="1.2" fill="none"/>
<path d="M457.8,45.9 L461.4,43.9 L461.4,47.9 Z" fill="#222"/>
<defs><linearGradient id="pbg" x1="0" y1="0" x2="1" y2="0"><stop offset="0" stop-color="#cbc5c8"/><stop offset="0.55" stop-color="#cec7c9"/><stop offset="0.85" stop-color="#bfc5c0"/><stop offset="1" stop-color="#b2bfb7"/></linearGradient><linearGradient id="tube" x1="0" y1="0" x2="1" y2="0"><stop offset="0" stop-color="#d0c9cb"/><stop offset="0.08" stop-color="#e2d8da"/><stop offset="0.32" stop-color="#e6dcdd"/><stop offset="0.45" stop-color="#d2cdcc"/><stop offset="0.55" stop-color="#cecbc9"/><stop offset="0.68" stop-color="#e0d7d8"/><stop offset="0.9" stop-color="#e7dedf"/><stop offset="1" stop-color="#cac4c6"/></linearGradient><linearGradient id="liq1" x1="0" y1="0" x2="1" y2="0"><stop offset="0" stop-color="#c4c19e"/><stop offset="0.45" stop-color="#abb495"/><stop offset="1" stop-color="#b3b8a6"/></linearGradient><linearGradient id="liq2" x1="0" y1="0" x2="1" y2="0"><stop offset="0" stop-color="#c2c29e"/><stop offset="0.45" stop-color="#9eb49b"/><stop offset="1" stop-color="#abb5a6"/></linearGradient><linearGradient id="liq3" x1="0" y1="0" x2="1" y2="0"><stop offset="0" stop-color="#c49c4a"/><stop offset="0.5" stop-color="#ad7f2a"/><stop offset="1" stop-color="#bf9444"/></linearGradient><linearGradient id="shade" x1="0" y1="0" x2="0" y2="1"><stop offset="0" stop-color="#000" stop-opacity="0"/><stop offset="1" stop-color="#000" stop-opacity="0.08"/></linearGradient><linearGradient id="pinkb" x1="0" y1="0" x2="0" y2="1"><stop offset="0" stop-color="#dbd1d4" stop-opacity="0"/><stop offset="0.3" stop-color="#dbd1d4" stop-opacity="0.9"/><stop offset="1" stop-color="#dbd1d4" stop-opacity="0.95"/></linearGradient><filter id="pb" x="-5%" y="-5%" width="110%" height="110%"><feGaussianBlur stdDeviation="1.0"/></filter></defs>
<rect x="7" y="24" width="129" height="124" fill="url(#pbg)"/>
<g filter="url(#pb)">
<rect x="8" y="96" width="114" height="51" fill="url(#pinkb)"/>
<rect x="50" y="96" width="7" height="49" fill="#ddd3d4" opacity="0.8"/>
<rect x="85.5" y="96" width="7" height="49" fill="#ddd3d4" opacity="0.8"/>
<rect x="15" y="55.5" width="116" height="4.5" fill="#e2dddd"/>
<rect x="15" y="55" width="116" height="1.2" fill="#b9b6b5"/>
<path d="M21,59 H51 V104 Q51,108 49.5,109.5 L44.5,143.0 H34 L27.5,109.5 Q21,108 21,104 Z" fill="url(#tube)"/>
<path d="M30.5,110.5 H47.5 L43.5,141.5 H35 Z" fill="url(#liq1)"/>
<path d="M30.5,110.5 H47.5 L43.5,141.5 H35 Z" fill="url(#shade)"/>
<path d="M49.0,110.5 L52.0,110.5 L46.5,140.5 L44.5,140.5 Z" fill="#eedede" opacity="0.9"/>
<path d="M56.599999999999994,59 H86.6 V104 Q86.6,108 82,109.5 L78,143.1 H66.5 L60.5,109.5 Q56.599999999999994,108 56.599999999999994,104 Z" fill="url(#tube)"/>
<path d="M63.5,110.5 H80 L77,141.6 H67.5 Z" fill="url(#liq2)"/>
<path d="M63.5,110.5 H80 L77,141.6 H67.5 Z" fill="url(#shade)"/>
<path d="M81.5,110.5 L84.5,110.5 L80,140.6 L78,140.6 Z" fill="#eedede" opacity="0.9"/>
<path d="M91.5,59 H121.5 V104 Q121.5,108 118.5,108.6 L112.4,142.7 H99.7 L93.2,108.6 Q91.5,108 91.5,104 Z" fill="url(#tube)"/>
<path d="M96.2,109.6 H116.5 L111.4,141.2 H100.7 Z" fill="url(#liq3)"/>
<path d="M96.2,109.6 H116.5 L111.4,141.2 H100.7 Z" fill="url(#shade)"/>
<path d="M118.0,109.6 L121.0,109.6 L114.4,140.2 L112.4,140.2 Z" fill="#eedede" opacity="0.9"/>
<rect x="103" y="95" width="6" height="15" fill="#bcb078" opacity="0.35"/>
<rect x="96" y="108.6" width="20.5" height="1.6" fill="#d9a27a" opacity="0.7"/>
</g>
<text x="34.2" y="37" font-size="8" text-anchor="middle" font-weight="normal" fill="#222" stroke="#222" stroke-width="0.4" >+/+</text>
<text x="71.2" y="37" font-size="8" text-anchor="middle" font-weight="normal" fill="#222" stroke="#222" stroke-width="0.4" >+/-</text>
<text x="108.2" y="37" font-size="8" text-anchor="middle" font-weight="normal" fill="#222" stroke="#222" stroke-width="0.4" >-/-</text>
<rect x="0.5" y="0.5" width="519" height="394" fill="none" stroke="#000" stroke-width="1"/>
</svg></body></html>
